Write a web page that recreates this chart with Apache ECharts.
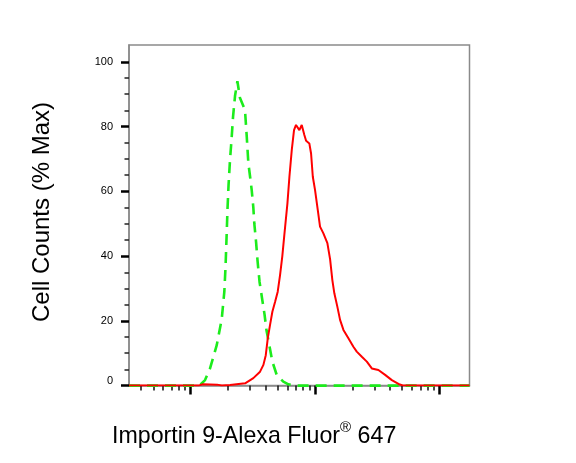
<!DOCTYPE html>
<html><head><meta charset="utf-8">
<script src="https://cdn.jsdelivr.net/npm/echarts@6/dist/echarts.min.js"></script>
<style>html,body{margin:0;padding:0;background:#fff}#c{width:576px;height:463px}</style>
</head><body><div id="c"></div>
<script>
// x values are log10(fluorescence intensity); y values are % of max cell count
const xMinLog = 1.504;
const xMaxLog = 4.24;
const isotypeX = [1.504, 2.07, 2.115, 2.155, 2.209, 2.249, 2.270, 2.280, 2.289, 2.296, 2.304, 2.316, 2.328, 2.340, 2.356, 2.375, 2.396, 2.436, 2.450, 2.463, 2.477, 2.490, 2.503, 2.511, 2.525, 2.537, 2.553, 2.573, 2.593, 2.609, 2.629, 2.656, 2.691, 2.744, 2.785, 2.838, 4.24];
const isotypeY = [0, 0, 1.7, 5.3, 12.5, 20.5, 29, 37, 47, 55, 62, 70, 76, 83, 89.5, 94, 88.8, 85.1, 77, 68.7, 64.5, 60.4, 55, 50, 44.4, 38.5, 32, 27, 22, 17, 13, 7.4, 3.3, 1.2, 0.4, 0, 0];
const sampleX = [1.504, 2.06, 2.099, 2.211, 2.25, 2.316, 2.437, 2.503, 2.557, 2.584, 2.603, 2.619, 2.637, 2.656, 2.678, 2.699, 2.718, 2.736, 2.752, 2.777, 2.793, 2.812, 2.830, 2.846, 2.873, 2.892, 2.913, 2.927, 2.953, 2.967, 2.981, 2.999, 3.021, 3.039, 3.066, 3.098, 3.120, 3.138, 3.154, 3.178, 3.200, 3.227, 3.267, 3.307, 3.334, 3.375, 3.415, 3.455, 3.508, 3.562, 3.616, 3.669, 3.709, 4.24];
const sampleY = [0, 0, 0.4, 0.3, 0, 0.2, 0.7, 2.3, 4.3, 6.4, 9.4, 14.6, 18.7, 22.8, 25.9, 29, 34.2, 40, 46.5, 56.3, 64.5, 72.8, 78.9, 80.5, 78.9, 80.5, 77.4, 75.6, 74.8, 71.7, 64.5, 60.4, 54.2, 49.1, 47, 44, 39, 32.6, 28.5, 24.4, 20.3, 17.2, 14.6, 12, 10.5, 8.9, 7.4, 5.3, 4.8, 3.3, 1.7, 0.5, 0, 0];
const yTickLabels = [0, 20, 40, 60, 80, 100];
const yMinorTicks = [5, 10, 15, 25, 30, 35, 45, 50, 55, 65, 70, 75, 85, 90, 95];
const xDecades = [1, 2, 3, 4];
const xMinorMultipliers = [2, 3, 4, 5, 6, 7, 8, 9];
const yTitle = 'Cell Counts (% Max)';

const xMajorTicks = xDecades.filter(d => d >= xMinLog && d <= xMaxLog);
const xMinorTicks = [];
xDecades.forEach(d => xMinorMultipliers.forEach(m => {
  const v = d + Math.log10(m);
  if (v >= xMinLog && v <= xMaxLog) xMinorTicks.push(v);
}));
const zip = (xs, ys) => xs.map((x, i) => [x, ys[i]]);

const axisGray = '#8a8a8a';
const chart = echarts.init(document.getElementById('c'));
chart.setOption({
  animation: false,
  backgroundColor: '#fff',
  grid: { left: 129, top: 45, width: 340.5, height: 340.6, show: true, borderColor: axisGray, borderWidth: 1.5, containLabel: false },
  xAxis: [
    { type: 'value', min: xMinLog, max: xMaxLog, position: 'bottom',
      axisLine: { show: true, lineStyle: { color: axisGray, width: 1.5 } },
      axisTick: { show: true, customValues: xMajorTicks, length: 9, lineStyle: { color: '#000', width: 2.5 } },
      axisLabel: { show: false }, splitLine: { show: false } },
    { type: 'value', min: xMinLog, max: xMaxLog, position: 'bottom', offset: 0,
      axisLine: { show: false },
      axisTick: { show: true, customValues: xMinorTicks, length: 5, lineStyle: { color: '#111', width: 1.5 } },
      axisLabel: { show: false }, splitLine: { show: false } }
  ],
  yAxis: [
    { type: 'value', min: 0, max: 105.2, position: 'left',
      axisLine: { show: true, lineStyle: { color: axisGray, width: 1.5 } },
      axisTick: { show: true, customValues: yTickLabels, length: 8, lineStyle: { color: '#000', width: 2.5 } },
      axisLabel: { show: true, customValues: yTickLabels, margin: 16, color: '#000', fontSize: 11,
        fontFamily: '"Liberation Sans", Arial, sans-serif',
        formatter: v => v === 0 ? '{z|0}' : String(v),
        rich: { z: { fontSize: 11, color: '#000', padding: [0, 0, 10, 0] } } },
      splitLine: { show: false } },
    { type: 'value', min: 0, max: 105.2, position: 'left', offset: 0,
      axisLine: { show: false },
      axisTick: { show: true, customValues: yMinorTicks, length: 4.5, lineStyle: { color: '#222', width: 1.5 } },
      axisLabel: { show: false }, splitLine: { show: false } }
  ],
  graphic: [
    { type: 'text', x: 42, y: 212, rotation: Math.PI / 2,
      style: { text: yTitle, fill: '#000', fontSize: 24, fontFamily: '"Liberation Sans", Arial, sans-serif', align: 'center', verticalAlign: 'middle' } },
    { type: 'text', x: 112, y: 434.5,
      style: { text: '{a|Importin 9-Alexa Fluor}{s|®}{a| 647}', fill: '#000', align: 'left', verticalAlign: 'middle',
        fontFamily: '"Liberation Sans", Arial, sans-serif',
        rich: {
          a: { fontSize: 23.2, lineHeight: 28, fill: '#000', fontFamily: '"Liberation Sans", Arial, sans-serif', verticalAlign: 'bottom' },
          s: { fontSize: 15, lineHeight: 15, fill: '#000', fontFamily: '"Liberation Sans", Arial, sans-serif', verticalAlign: 'top' }
        } } }
  ],
  series: [
    { name: 'Isotype', type: 'line', xAxisIndex: 0, yAxisIndex: 0, data: zip(isotypeX, isotypeY), showSymbol: false, symbol: 'none',
      lineStyle: { color: '#1cec1c', width: 2.6, type: [11, 7] }, z: 2 },
    { name: 'Importin 9', type: 'line', xAxisIndex: 0, yAxisIndex: 0, data: zip(sampleX, sampleY), showSymbol: false, symbol: 'none',
      lineStyle: { color: '#ff0000', width: 2 }, z: 3 }
  ]
});
</script></body></html>
